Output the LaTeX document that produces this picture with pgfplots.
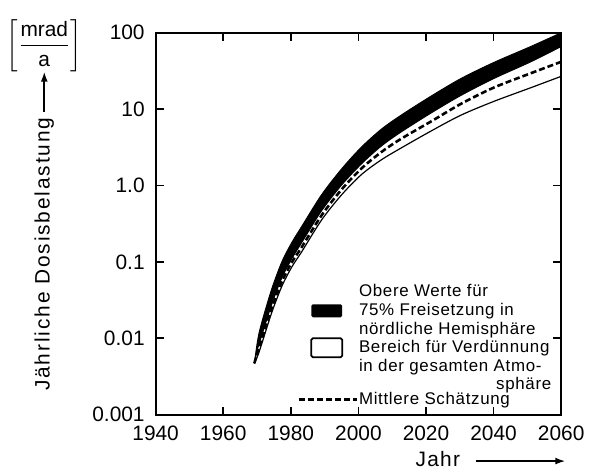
\documentclass[border=0pt]{standalone}
\usepackage{pgfplots}
\pgfplotsset{compat=1.18}
\usepgfplotslibrary{fillbetween}
\usetikzlibrary{arrows.meta}
\usepackage{amsmath}
\usepackage{fontspec}
\setmainfont{Liberation Sans}

\pgfplotstableread{
year val
1969.2 0.00468
1970.3 0.0100
1971.5 0.0166
1974.4 0.0447
1977.4 0.101
1980.3 0.179
1983.2 0.289
1989.1 0.755
1995.0 1.64
2000.9 3.18
2006.8 5.46
2012.6 8.31
2021.5 14.8
2030.3 25.1
2040.0 40.7
2050.9 65.8
2060.0 100
}\topdata

\pgfplotstableread{
year val
1969.2 0.00468
1970.3 0.00759
1971.5 0.01122
1974.4 0.0282
1977.4 0.0624
1980.3 0.110
1983.2 0.178
1989.1 0.466
1995.0 1.01
2000.9 1.92
2006.8 3.29
2012.6 5.01
2021.5 8.90
2030.3 15.1
2040.0 25.1
2050.9 41.5
2060.0 66.1
}\botdata

\pgfplotstableread{
year val
1969.2 0.00468
1970.3 0.00676
1971.5 0.0100
1974.4 0.0251
1977.4 0.0556
1980.3 0.0984
1983.2 0.155
1989.1 0.406
1995.0 0.883
2000.9 1.67
2006.8 2.74
2012.6 4.08
2021.5 6.90
2030.3 11.7
2040.0 19.1
2050.9 29.4
2060.0 41.7
}\middata

\pgfplotstableread{
year val
1969.2 0.00468
1970.3 0.00603
1971.5 0.00871
1974.4 0.0219
1977.4 0.0484
1980.3 0.0857
1983.2 0.135
1989.1 0.353
1995.0 0.752
2000.9 1.39
2006.8 2.17
2012.6 3.09
2021.5 5.17
2030.3 8.32
2040.0 12.6
2050.9 19.0
2060.0 26.9
}\lowdata

\begin{document}
\begin{tikzpicture}
\begin{axis}[
  scale only axis, width=204pt, height=192pt,
  ymode=log,
  xmin=1940, xmax=2060, ymin=0.001, ymax=100,
  xtick={1940,1960,1980,2000,2020,2040,2060},
  xticklabels={1940,1960,1980,2000,2020,2040,2060},
  ytick={0.001,0.01,0.1,1,10,100},
  yticklabels={0.001,0.01,0.1,1.0,10,100},
  yminorticks=false, xminorticks=false,
  tick align=inside,
  major tick length=4pt,
  tick style={line width=0.8pt, black},
  axis line style={line width=1pt},
  /pgf/number format/assume math mode=true,
  tick label style={font=\fontsize{10.5}{12}\selectfont},
  xticklabel style={yshift=-2pt},
  yticklabel style={xshift=-2pt},
  ylabel={Jährliche Dosisbelastung},
  ylabel style={at={(axis description cs:-0.2745,0.42)}, anchor=center,
    font=\fontsize{10.5}{12}\selectfont\addfontfeature{LetterSpace=9}},
  clip mode=individual,
  legend cell align=left,
  legend style={at={(axis description cs:0.383,0.352)}, anchor=north west, draw=none, fill=none,
    inner sep=0pt, row sep=-2.5pt, font=\fontsize{8.5}{9.4}\selectfont\addfontfeature{LetterSpace=4},
    cells={align=left, inner sep=0pt}},
]
\addplot[black, line width=0.5pt, smooth, name path=top, forget plot] table[x=year,y=val]{\topdata};
\addplot[black, line width=0.5pt, smooth, name path=bot, forget plot] table[x=year,y=val]{\botdata};
\addplot[black, forget plot] fill between[of=top and bot];
\addplot[black, line width=1.3pt, dash pattern=on 3pt off 1.5pt, smooth, forget plot] table[x=year,y=val]{\middata};
\addplot[black, line width=0.6pt, smooth, forget plot] table[x=year,y=val]{\lowdata};

\addlegendimage{draw=none, legend image code/.code={\path[draw=none, fill=none] (0pt,0pt) rectangle (22pt,0pt); \fill[overlay, black, rounded corners=0.8pt] (0pt,-3.3pt) rectangle (15.5pt,3.3pt);}}
\addlegendentry{Obere Werte für\\75\% Freisetzung in\\nördliche Hemisphäre}
\addlegendimage{draw=none, legend image code/.code={\path[draw=none, fill=none] (0pt,0pt) rectangle (22pt,0pt); \draw[overlay, black, line width=0.9pt, fill=white, rounded corners=0.8pt] (0pt,4.6pt) rectangle (15.5pt,14.2pt);}}
\addlegendentry{Bereich für Verdünnung\\in der gesamten Atmo-\\\hspace*{69pt}sphäre}
\addlegendimage{draw=none, legend image code/.code={\path[draw=none, fill=none] (0pt,0pt) rectangle (22pt,0pt); \draw[overlay, black, line width=1.3pt, dash pattern=on 3pt off 1.5pt] (-6pt,1.2pt) -- (23pt,1.2pt);}}
\addlegendentry{\raisebox{0pt}[4.5pt][0pt]{Mittlere Schätzung}}

\node[font=\fontsize{10.5}{12}\selectfont] at (axis description cs:-0.2745,0.966) {$\biggl[\dfrac{\mbox{mrad}}{\mbox{a}}\biggr]$};
\draw[-{Latex[length=5pt,width=3.5pt]}, line width=0.8pt] (axis description cs:-0.2745,0.792) -- (axis description cs:-0.2745,0.898);
\node[font=\fontsize{10.5}{12}\selectfont\addfontfeature{LetterSpace=6}] at (axis description cs:0.696,-0.117) {Jahr};
\draw[-{Latex[length=5pt,width=3.5pt]}, line width=0.8pt] (axis description cs:0.789,-0.122) -- (axis description cs:1.01,-0.122);
\path (axis description cs:-0.375,-0.1458) rectangle (axis description cs:1.0858,1.0859);
\end{axis}
\end{tikzpicture}
\end{document}
